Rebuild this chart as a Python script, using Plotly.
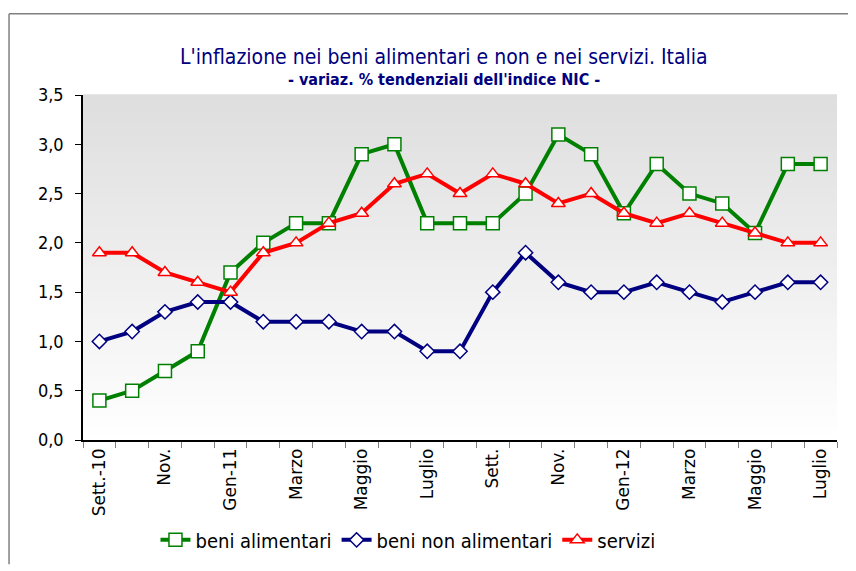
import plotly.graph_objects as go

# Mesi (da settembre 2010 a luglio 2012)
mesi = ["Sett.-10", "Ott.", "Nov.", "Dic.", "Gen-11", "Feb.", "Marzo", "Aprile",
        "Maggio", "Giugno", "Luglio", "Agosto", "Sett.", "Ott.", "Nov.", "Dic.",
        "Gen-12", "Feb.", "Marzo", "Aprile", "Maggio", "Giugno", "Luglio"]

beni_alimentari = [0.4, 0.5, 0.7, 0.9, 1.7, 2.0, 2.2, 2.2, 2.9, 3.0, 2.2, 2.2,
                   2.2, 2.5, 3.1, 2.9, 2.3, 2.8, 2.5, 2.4, 2.1, 2.8, 2.8]
beni_non_alimentari = [1.0, 1.1, 1.3, 1.4, 1.4, 1.2, 1.2, 1.2, 1.1, 1.1, 0.9, 0.9,
                       1.5, 1.9, 1.6, 1.5, 1.5, 1.6, 1.5, 1.4, 1.5, 1.6, 1.6]
servizi = [1.9, 1.9, 1.7, 1.6, 1.5, 1.9, 2.0, 2.2, 2.3, 2.6, 2.7, 2.5,
           2.7, 2.6, 2.4, 2.5, 2.3, 2.2, 2.3, 2.2, 2.1, 2.0, 2.0]

x = list(range(len(mesi)))
etichette_idx = x[::2]
etichette = [mesi[i] for i in etichette_idx]

fig = go.Figure()

fig.add_trace(go.Scatter(
    x=x, y=beni_alimentari, name="beni alimentari", mode="lines+markers",
    line=dict(color="#008000", width=4),
    marker=dict(symbol="square", size=13, color="white",
                line=dict(color="#008000", width=1.5))))
fig.add_trace(go.Scatter(
    x=x, y=beni_non_alimentari, name="beni non alimentari", mode="lines+markers",
    line=dict(color="#000080", width=4),
    marker=dict(symbol="diamond", size=11, color="white",
                line=dict(color="#000080", width=1.5))))
fig.add_trace(go.Scatter(
    x=x, y=servizi, name="servizi", mode="lines+markers",
    line=dict(color="#FF0000", width=4),
    marker=dict(symbol="triangle-up", size=12, color="white",
                line=dict(color="#FF0000", width=1.5))))

# sfondo sfumato dell'area del grafico
shapes = []
n = 60
for i in range(n):
    t = i / n
    g = int(222 + (255 - 222) * (1 - t))
    shapes.append(dict(type="rect", xref="paper", yref="paper",
                       x0=0, x1=1, y0=t, y1=t + 1 / n + 0.002,
                       fillcolor=f"rgb({g},{g},{g})", line=dict(width=0),
                       layer="below"))
# cornice esterna
shapes.append(dict(type="line", xref="paper", yref="paper",
                   x0=-0.0981, x1=1.1, y0=1.2358, y1=1.2358,
                   line=dict(color="#808080", width=1.5)))
shapes.append(dict(type="line", xref="paper", yref="paper",
                   x0=-0.0981, x1=-0.0981, y0=1.2358, y1=-0.36,
                   line=dict(color="#808080", width=1.5)))

fig.update_layout(
    width=848, height=563,
    margin=dict(l=75, r=19, t=87, b=124),
    paper_bgcolor="white",
    plot_bgcolor="rgba(0,0,0,0)",
    separators=",.",
    font=dict(family="DejaVu Sans Condensed", color="black"),
    shapes=shapes,
    showlegend=True,
    legend=dict(orientation="h", x=0.431, xanchor="center", y=-0.346, yanchor="bottom",
                font=dict(size=20, family="DejaVu Sans Condensed"),
                itemwidth=30, tracegroupgap=0),
    annotations=[
        dict(text="L'inflazione nei beni alimentari e non e nei servizi. Italia",
             xref="paper", yref="paper", x=0.479, y=1.1506, showarrow=False,
             font=dict(size=21, color="#000080", family="DejaVu Sans Condensed")),
        dict(text="<b>- variaz. % tendenziali dell'indice NIC -</b>",
             xref="paper", yref="paper", x=0.479, y=1.0795, showarrow=False,
             font=dict(size=16, color="#000080", family="DejaVu Sans Condensed")),
    ],
)

fig.update_xaxes(
    range=[-0.5, len(mesi) - 0.5],
    tickvals=etichette_idx, ticktext=etichette, tickangle=-90,
    ticks="", showgrid=False, zeroline=False,
    showline=True, linecolor="black", linewidth=1.5,
    tickfont=dict(size=17, family="DejaVu Sans"),
    minor=dict(ticks="outside", tick0=-0.5, dtick=1, ticklen=6,
               tickcolor="#808080", showgrid=False),
)
fig.update_yaxes(
    range=[0, 3.5], dtick=0.5, tickformat=".1f",
    ticks="outside", ticklen=6, tickcolor="black", ticklabelstandoff=8,
    showgrid=False, zeroline=False,
    showline=True, linecolor="black", linewidth=1.5,
    tickfont=dict(size=18, family="DejaVu Sans Condensed"),
)

fig.write_html("out.html")
